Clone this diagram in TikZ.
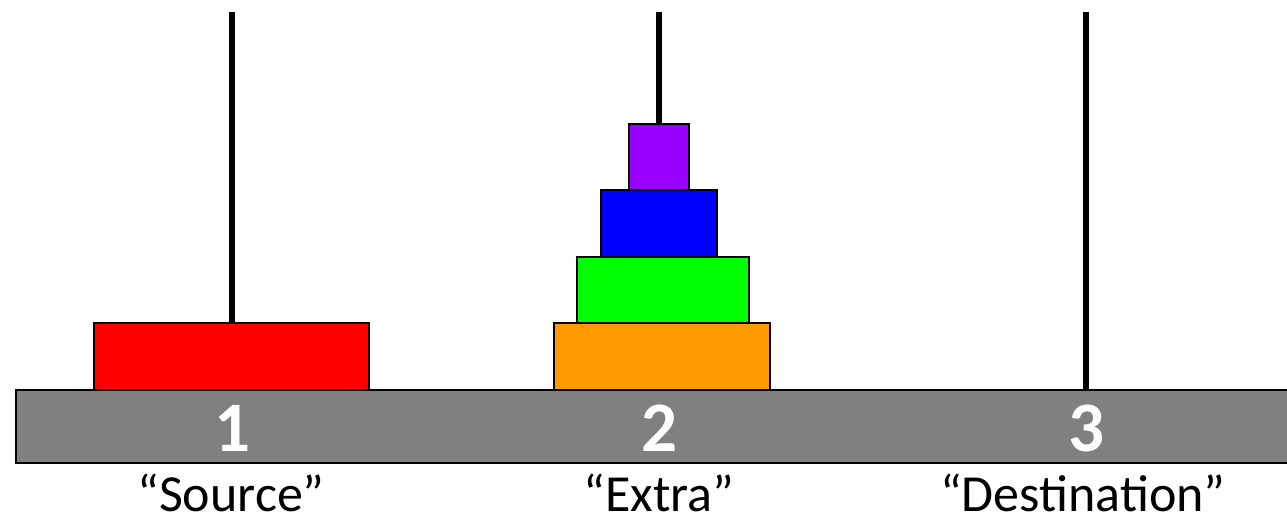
\documentclass[tikz,border=0pt]{standalone}
\usepackage{fontspec}
\setmainfont{Carlito}
\definecolor{basegray}{HTML}{808080}
\definecolor{dorange}{HTML}{FF9900}
\definecolor{dpurple}{HTML}{9900FF}
\definecolor{dgreen}{HTML}{00FF00}
\definecolor{dblue}{HTML}{0000FF}
\definecolor{dred}{HTML}{FF0000}
\tikzset{
  disk/.style={draw=black, line width=2pt, inner sep=0pt, outer sep=0pt},
  peg/.style={draw=black, line width=6pt},
  pegnum/.style={text=white, font=\fontsize{71}{71}\selectfont\bfseries, anchor=base, inner sep=0pt},
  peglabel/.style={text=black, font=\fontsize{52}{52}\selectfont, anchor=base, inner sep=0pt},
}
\begin{document}
\begin{tikzpicture}[x=1pt,y=-1pt]
\useasboundingbox (0,0) rectangle (1287,516);
% pegs
\coordinate (t1) at (232,12);
\coordinate (t2) at (659,12);
\coordinate (t3) at (1086,12);
\coordinate (b1) at (232,390);
\coordinate (b2) at (659,390);
\coordinate (b3) at (1086,390);
\draw[peg] (t1) -- (b1);
\draw[peg] (t2) -- (b2);
\draw[peg] (t3) -- (b3);
% base
\node[disk, fill=basegray, minimum width=1290pt, minimum height=73pt, anchor=north west] (base) at (16,390) {};
% disks
\node[disk, fill=dred, minimum width=275pt, minimum height=67pt] (red) at (231.5,356.5) {};
\node[disk, fill=dorange, minimum width=216pt, minimum height=67pt] (orange) at (662,356.5) {};
\node[disk, fill=dgreen, minimum width=172pt, minimum height=66pt] (green) at (663,290) {};
\node[disk, fill=dblue, minimum width=116pt, minimum height=67pt] (blue) at (659,223.5) {};
\node[disk, fill=dpurple, minimum width=60pt, minimum height=66pt] (purple) at (659,157) {};
% numbers
\node[pegnum] (n1) at (232,451) {1};
\node[pegnum] (n2) at (659,451) {2};
\node[pegnum] (n3) at (1086,451) {3};
% labels
\node[peglabel] (l1) at (231,511) {“Source”};
\node[peglabel] (l2) at (659,511) {“Extra”};
\node[peglabel] (l3) at (1083,511) {“Destination”};
\end{tikzpicture}
\end{document}
